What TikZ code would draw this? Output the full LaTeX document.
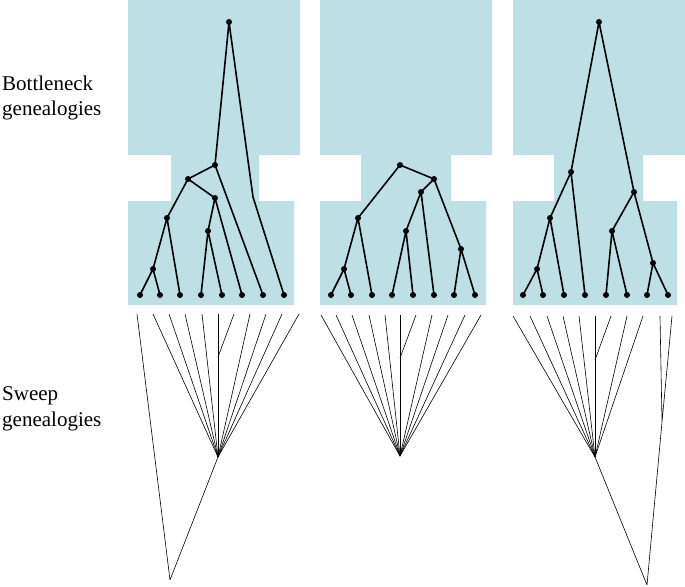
\documentclass[tikz,border=0pt]{standalone}
\usepackage{fontspec}
\setmainfont{Liberation Serif}
\definecolor{bg}{HTML}{BCE0E4}
\begin{document}
\begin{tikzpicture}[x=1pt,y=-1pt,
  br/.style={line width=1.6pt,line cap=round},
  sw/.style={line width=0.6pt},
  dot/.style={circle,fill=black,inner sep=0pt,minimum size=6pt},
  pt/.style={inner sep=0pt,minimum size=0pt},
  lab/.style={font=\fontsize{21}{25}\selectfont,anchor=base west,inner sep=0pt}]
\useasboundingbox (0,0) rectangle (685,586);
% backgrounds
\fill[bg] (128,0) -- (300,0) -- (300,155) -- (259,155) -- (259,201) -- (294,201) -- (294,305) -- (128,305) -- (128,201) -- (171,201) -- (171,155) -- (128,155) -- cycle;
\fill[bg] (320,0) -- (492,0) -- (492,155) -- (451,155) -- (451,201) -- (486,201) -- (486,305) -- (320,305) -- (320,201) -- (361,201) -- (361,155) -- (320,155) -- cycle;
\fill[bg] (513,0) -- (685,0) -- (685,155) -- (643,155) -- (643,201) -- (677,201) -- (677,305) -- (513,305) -- (513,201) -- (554,201) -- (554,155) -- (513,155) -- cycle;
% labels
\node[lab] (l1) at (2,90) {Bottleneck};
\node[lab] (l2) at (2,115) {genealogies};
\node[lab] (l3) at (2,400) {Sweep};
\node[lab] (l4) at (2,426) {genealogies};
% ---- panel 1 bottleneck
\foreach \i/\x in {1/140,2/160,3/180,4/201,5/222,6/242,7/263,8/284}
  \node[dot] (p1t\i) at (\x,295) {};
\node[dot] (p1a) at (153,269) {};
\node[dot] (p1b) at (167,218) {};
\node[dot] (p1c) at (208,231) {};
\node[dot] (p1d) at (215,198) {};
\node[dot] (p1e) at (188,179) {};
\node[dot] (p1f) at (215,165) {};
\node[dot] (p1r) at (229,22) {};
\coordinate (p1k) at (253,197);
\draw[br] (p1a.center)--(p1t1.center) (p1a.center)--(p1t2.center)
  (p1b.center)--(p1a.center) (p1b.center)--(p1t3.center)
  (p1c.center)--(p1t4.center) (p1c.center)--(p1t5.center)
  (p1d.center)--(p1c.center) (p1d.center)--(p1t6.center)
  (p1e.center)--(p1b.center) (p1e.center)--(p1d.center)
  (p1f.center)--(p1e.center) (p1f.center)--(p1t7.center)
  (p1r.center)--(p1f.center) (p1r.center)--(p1k)--(p1t8.center);
% ---- panel 2 bottleneck
\foreach \i/\x in {1/331,2/351,3/372,4/392,5/413,6/434,7/454,8/475}
  \node[dot] (p2t\i) at (\x,295) {};
\node[dot] (p2a) at (344,269) {};
\node[dot] (p2b) at (358,218) {};
\node[dot] (p2c) at (406,231) {};
\node[dot] (p2d) at (421,192) {};
\node[dot] (p2e) at (434,179) {};
\node[dot] (p2f) at (400,165) {};
\node[dot] (p2g) at (461,249) {};
\draw[br] (p2a.center)--(p2t1.center) (p2a.center)--(p2t2.center)
  (p2b.center)--(p2a.center) (p2b.center)--(p2t3.center)
  (p2c.center)--(p2t4.center) (p2c.center)--(p2t5.center)
  (p2d.center)--(p2c.center) (p2d.center)--(p2t6.center)
  (p2g.center)--(p2t7.center) (p2g.center)--(p2t8.center)
  (p2e.center)--(p2d.center) (p2e.center)--(p2g.center)
  (p2f.center)--(p2b.center) (p2f.center)--(p2e.center);
% ---- panel 3 bottleneck
\foreach \i/\x in {1/523,2/543,3/564,4/585,5/606,6/627,7/647,8/668}
  \node[dot] (p3t\i) at (\x,295) {};
\node[dot] (p3a) at (537,269) {};
\node[dot] (p3b) at (550,218) {};
\node[dot] (p3c) at (571,172) {};
\node[dot] (p3d) at (612,231) {};
\node[dot] (p3g) at (653,263) {};
\node[dot] (p3e) at (634,192) {};
\node[dot] (p3r) at (599,22) {};
\draw[br] (p3a.center)--(p3t1.center) (p3a.center)--(p3t2.center)
  (p3b.center)--(p3a.center) (p3b.center)--(p3t3.center)
  (p3c.center)--(p3b.center) (p3c.center)--(p3t4.center)
  (p3d.center)--(p3t5.center) (p3d.center)--(p3t6.center)
  (p3g.center)--(p3t7.center) (p3g.center)--(p3t8.center)
  (p3e.center)--(p3d.center) (p3e.center)--(p3g.center)
  (p3r.center)--(p3c.center) (p3r.center)--(p3e.center);
% ---- panel 1 sweep
\foreach \i/\x in {1/137,2/153,3/169,4/185,5/202,6/218,7/234,8/250,9/266,10/282,11/299}
  \coordinate (s1t\i) at (\x,314);
\coordinate (s1j) at (218,457);
\coordinate (s1m) at (218,357);
\coordinate (s1r) at (170,580);
\draw[sw] (s1t1)--(s1r) (s1j)--(s1r) (s1t7)--(s1m);
\foreach \i in {2,3,4,5,6,8,9,10,11} \draw[sw] (s1t\i)--(s1j);
% ---- panel 2 sweep
\foreach \i/\x in {1/321,2/336,3/352,4/369,5/385,6/400,7/416,8/432,9/448,10/465,11/481}
  \coordinate (s2t\i) at (\x,315);
\coordinate (s2j) at (400,456);
\coordinate (s2m) at (400,358);
\draw[sw] (s2t7)--(s2m);
\foreach \i in {1,2,3,4,5,6,8,9,10,11} \draw[sw] (s2t\i)--(s2j);
% ---- panel 3 sweep
\foreach \i/\x in {1/513,2/530,3/547,4/563,5/579,6/595,7/611,8/627,9/643,10/660,11/672}
  \coordinate (s3t\i) at (\x,316);
\coordinate (s3j) at (595,457);
\coordinate (s3m) at (595,360);
\coordinate (s3k) at (662,422);
\coordinate (s3r) at (647,585);
\draw[sw] (s3t7)--(s3m) (s3t10)--(s3k) (s3t11)--(s3k) (s3k)--(s3r) (s3j)--(s3r);
\foreach \i in {1,2,3,4,5,6,8,9} \draw[sw] (s3t\i)--(s3j);
\end{tikzpicture}
\end{document}
